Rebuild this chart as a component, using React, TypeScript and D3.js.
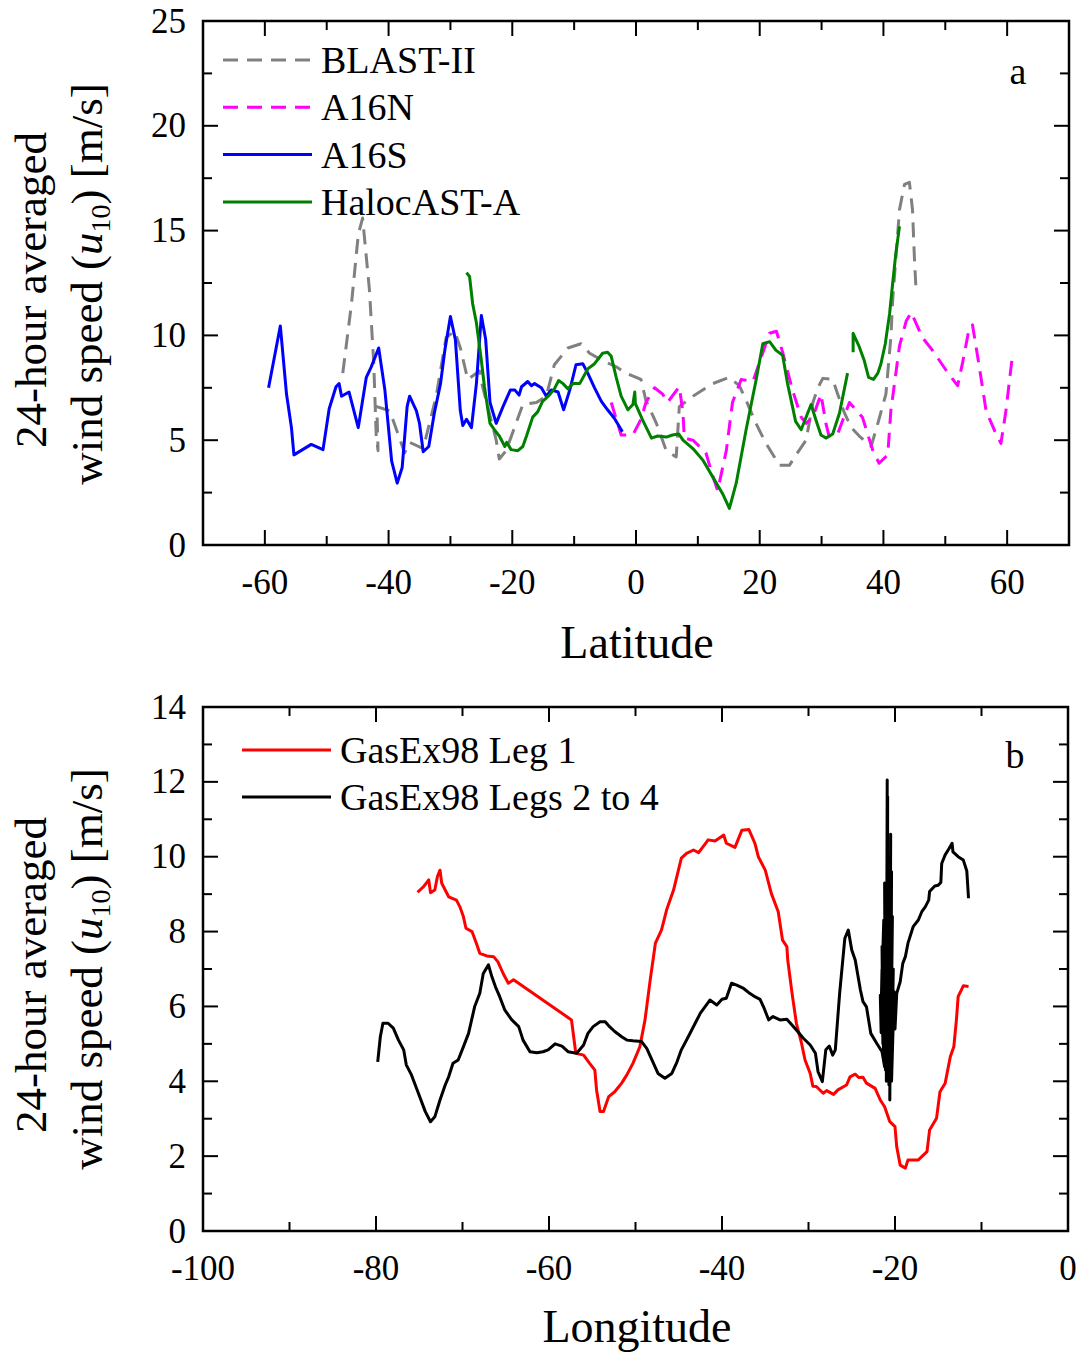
import React from "react";
import * as d3 from "d3";

// ---------- Panel a data (latitude, u10 m/s) ----------
const blastII: [number, number][] = [
  [-47.4, 8.2], [-46.0, 11.5], [-44.9, 14.8], [-44.2, 15.6], [-43.1, 12.2], [-42.4, 8.7], [-42.0, 5.2], [-41.7, 4.5],
  [-41.9, 6.6], [-39.8, 6.4], [-37.4, 4.4], [-36.6, 4.9], [-34.4, 4.6], [-32.3, 7.1], [-30.7, 9.9], [-29.3, 10.2],
  [-28.4, 9.4], [-27.2, 7.9], [-25.3, 8.3], [-24.8, 7.55], [-22.6, 5.0], [-22.1, 4.1], [-21.0, 4.5], [-19.4, 5.8],
  [-18.3, 6.7], [-16.1, 6.8], [-14.5, 7.1], [-13.2, 8.6], [-11.0, 9.4], [-8.9, 9.6], [-7.5, 9.15], [-5.4, 8.8],
  [-3.2, 8.5], [-1.6, 8.2], [0.8, 7.9], [1.6, 6.9], [3.3, 5.8], [4.9, 4.5], [6.5, 4.2], [7.0, 6.6], [9.2, 7.1],
  [12.4, 7.7], [15.1, 8.0], [16.7, 7.6], [17.8, 6.9], [19.4, 5.8], [21.0, 4.85], [23.2, 3.8], [24.8, 3.8],
  [26.1, 4.4], [27.5, 5.0], [28.6, 6.8], [29.4, 7.5], [30.2, 7.95], [31.8, 7.9], [32.6, 7.2], [33.7, 6.3],
  [34.8, 5.6], [36.1, 5.2], [38.0, 4.7], [39.1, 5.8], [40.4, 7.2], [41.2, 9.9], [41.5, 11.7], [42.6, 16.0],
  [43.4, 17.2], [44.2, 17.3], [44.7, 16.0], [45.0, 13.75], [45.3, 12.0],
];

const a16n: [number, number][] = [
  [-4.0, 6.8], [-2.4, 5.25], [-0.5, 5.25], [0.8, 6.0], [1.6, 6.8], [3.0, 7.5], [4.3, 7.2], [5.1, 6.8], [7.0, 7.55],
  [7.6, 6.3], [7.8, 5.1], [9.2, 5.0], [11.3, 4.4], [12.4, 3.3], [13.2, 2.6], [14.6, 4.5], [15.6, 6.8], [17.0, 7.9],
  [18.9, 7.8], [20.3, 9.0], [21.6, 10.1], [22.7, 10.2], [23.7, 9.2], [25.3, 7.4], [26.7, 6.1], [27.5, 5.8],
  [28.6, 6.1], [29.9, 7.2], [30.7, 5.8], [31.2, 5.2], [32.6, 5.3], [34.5, 6.8], [36.6, 6.1], [38.3, 4.5],
  [39.3, 3.9], [40.7, 4.3], [41.2, 6.4], [42.6, 9.5], [43.7, 10.7], [44.5, 11.1], [46.3, 9.9], [47.9, 9.3],
  [50.1, 8.35], [52.0, 7.6], [52.8, 8.7], [53.9, 10.4], [54.4, 10.5], [55.5, 8.5], [56.6, 6.4], [58.2, 5.3],
  [59.0, 4.85], [59.8, 6.4], [60.9, 9.15],
];

const a16s: [number, number][] = [
  [-59.4, 7.5], [-57.5, 10.45], [-56.5, 7.2], [-55.7, 5.6], [-55.3, 4.3], [-52.5, 4.8], [-50.6, 4.55], [-49.6, 6.5],
  [-48.5, 7.55], [-48.0, 7.7], [-47.6, 7.1], [-46.4, 7.3], [-44.9, 5.6], [-43.6, 8.0], [-42.8, 8.5], [-41.6, 9.4],
  [-40.6, 7.4], [-39.5, 4.0], [-38.6, 2.95], [-37.8, 3.7], [-37.0, 6.6], [-36.6, 7.1], [-35.5, 6.4], [-35.0, 5.8],
  [-34.4, 4.45], [-33.5, 4.7], [-32.6, 6.3], [-31.6, 7.7], [-30.9, 9.3], [-30.0, 10.9], [-29.2, 9.8], [-28.4, 6.4],
  [-28.0, 5.7], [-27.4, 6.0], [-26.6, 5.6], [-25.8, 7.7], [-25.0, 10.95], [-24.3, 9.8], [-23.6, 6.8], [-22.6, 5.8],
  [-21.5, 6.6], [-20.3, 7.4], [-19.6, 7.4], [-18.9, 7.15], [-18.5, 7.55], [-17.5, 7.8], [-16.9, 7.6], [-16.4, 7.7],
  [-15.3, 7.5], [-14.5, 7.1], [-13.7, 7.4], [-12.6, 7.3], [-11.7, 6.45], [-10.7, 7.4], [-9.7, 8.6], [-8.6, 8.65],
  [-7.8, 8.2], [-6.7, 7.5], [-5.6, 6.85], [-4.6, 6.45], [-3.5, 6.05], [-2.2, 5.4],
];

const halocastA1: [number, number][] = [
  [-27.4, 13.0], [-26.9, 12.8], [-26.4, 11.5], [-25.8, 10.6], [-25.0, 8.8], [-24.5, 7.55], [-23.6, 5.8],
  [-22.9, 5.5], [-22.1, 5.2], [-21.2, 4.7], [-20.9, 4.9], [-20.2, 4.55], [-19.1, 4.5], [-18.3, 4.7],
  [-17.7, 5.2], [-16.7, 6.1], [-15.9, 6.35], [-15.1, 6.85], [-14.0, 7.15], [-13.2, 7.45], [-12.5, 7.85],
  [-11.8, 7.7], [-11.0, 7.45], [-10.2, 7.7], [-9.1, 7.7], [-7.8, 8.4], [-6.7, 8.65], [-5.4, 9.15], [-4.6, 9.2],
  [-4.0, 9.0], [-3.2, 8.0], [-2.4, 7.1], [-1.3, 6.45], [-0.5, 6.7], [-0.2, 7.3], [-0.1, 6.75], [1.1, 5.95],
  [2.5, 5.1], [3.5, 5.2], [4.9, 5.15], [5.9, 5.25], [6.9, 5.3], [7.6, 5.0], [9.2, 4.6], [10.8, 4.05],
  [12.4, 3.25], [14.0, 2.45], [15.1, 1.75], [16.2, 2.95], [17.8, 5.5], [19.4, 7.85], [20.5, 9.6], [21.6, 9.7],
  [22.6, 9.3], [23.7, 9.05], [24.5, 7.7], [25.3, 6.6], [25.8, 5.9], [26.7, 5.5], [28.3, 6.7], [29.1, 5.95],
  [29.9, 5.25], [30.7, 5.1], [31.8, 5.3], [32.9, 6.3], [34.2, 8.2],
];

const halocastA2: [number, number][] = [
  [35.1, 9.2], [35.1, 10.1], [36.1, 9.45], [36.9, 8.8], [37.6, 8.0], [38.4, 7.9], [39.1, 8.2], [39.6, 8.65],
  [40.3, 9.6], [41.0, 11.05], [41.5, 12.5], [42.0, 13.9], [42.6, 15.2],
];

// ---------- Panel b data (longitude, u10 m/s) ----------
const leg1: [number, number][] = [
  [-75.2, 9.05], [-74.5, 9.2], [-73.9, 9.38], [-73.7, 9.04], [-73.2, 9.11], [-72.9, 9.47], [-72.6, 9.64],
  [-72.4, 9.29], [-71.6, 8.93], [-70.7, 8.84], [-70.3, 8.66], [-69.9, 8.4], [-69.6, 8.09], [-68.9, 8.0],
  [-68.4, 7.69], [-68.0, 7.42], [-67.2, 7.35], [-66.4, 7.33], [-65.9, 7.19], [-65.3, 6.88], [-64.7, 6.62],
  [-64.1, 6.71], [-57.4, 5.64], [-56.9, 4.75], [-56.0, 4.7], [-55.3, 4.48], [-54.7, 4.3], [-54.5, 3.77],
  [-54.1, 3.19], [-53.7, 3.19], [-53.1, 3.59], [-52.4, 3.72], [-51.6, 3.95], [-51.0, 4.17], [-50.3, 4.48],
  [-49.5, 4.92], [-48.9, 5.64], [-48.3, 6.71], [-47.7, 7.69], [-47.0, 8.04], [-46.4, 8.58], [-45.6, 9.11],
  [-44.7, 9.96], [-44.1, 10.09], [-43.3, 10.18], [-42.7, 10.11], [-41.6, 10.45], [-40.8, 10.42], [-39.8, 10.58],
  [-39.5, 10.36], [-38.5, 10.25], [-37.7, 10.71], [-36.9, 10.73], [-36.2, 10.36], [-35.8, 10.0], [-35.0, 9.64],
  [-34.3, 9.02], [-33.5, 8.53], [-33.0, 7.77], [-32.5, 7.6], [-32.4, 7.24], [-31.9, 6.35], [-31.4, 5.55],
  [-30.8, 5.01], [-30.4, 4.57], [-29.8, 4.21], [-29.5, 3.87], [-29.1, 3.86], [-28.3, 3.68], [-27.9, 3.75],
  [-27.1, 3.65], [-26.6, 3.77], [-25.6, 3.9], [-25.2, 4.12], [-24.6, 4.19], [-24.2, 4.1], [-23.7, 4.11],
  [-23.3, 3.95], [-22.3, 3.81], [-21.7, 3.5], [-21.2, 3.32], [-20.6, 2.92], [-20.0, 2.79], [-19.8, 2.25],
  [-19.4, 1.76], [-18.8, 1.68], [-18.5, 1.9], [-17.3, 1.9], [-16.3, 2.12], [-16.0, 2.7], [-15.2, 3.01],
  [-14.8, 3.72], [-14.2, 3.95], [-13.6, 4.66], [-13.2, 4.92], [-12.9, 5.64], [-12.7, 6.26], [-12.1, 6.55],
  [-11.5, 6.53],
];

const legs2to4: [number, number][] = [
  [-79.8, 4.52], [-79.5, 5.19], [-79.2, 5.55], [-78.6, 5.55], [-78.0, 5.42], [-77.4, 5.1], [-76.8, 4.84],
  [-76.5, 4.44], [-75.9, 4.17], [-75.1, 3.68], [-74.3, 3.19], [-73.7, 2.92], [-73.2, 3.05], [-72.6, 3.5],
  [-72.0, 3.9], [-71.6, 4.12], [-71.1, 4.48], [-70.5, 4.57], [-69.9, 4.92], [-69.3, 5.28], [-68.6, 5.99],
  [-68.0, 6.35], [-67.6, 6.88], [-67.0, 7.11], [-66.6, 6.79], [-66.2, 6.53], [-65.7, 6.26], [-65.1, 5.9],
  [-64.3, 5.64], [-63.5, 5.46], [-63.0, 5.1], [-62.2, 4.79], [-61.4, 4.76], [-60.7, 4.79], [-60.1, 4.84],
  [-59.3, 5.0], [-58.5, 4.94], [-57.8, 4.79], [-56.8, 4.75], [-56.0, 4.97], [-55.5, 5.28], [-54.9, 5.46],
  [-54.1, 5.59], [-53.5, 5.59], [-53.0, 5.46], [-52.4, 5.33], [-51.6, 5.19], [-51.0, 5.1], [-50.3, 5.08],
  [-49.3, 5.06], [-48.7, 4.88], [-48.1, 4.57], [-47.4, 4.21], [-46.6, 4.08], [-45.8, 4.21], [-45.2, 4.52],
  [-44.7, 4.84], [-43.9, 5.19], [-43.1, 5.55], [-42.5, 5.82], [-41.4, 6.17], [-40.6, 6.04], [-40.0, 6.19],
  [-39.5, 6.22], [-38.9, 6.62], [-38.3, 6.57], [-37.5, 6.48], [-36.8, 6.35], [-36.2, 6.26], [-35.6, 6.19],
  [-35.2, 5.99], [-34.6, 5.64], [-34.1, 5.73], [-33.3, 5.64], [-32.5, 5.66], [-31.4, 5.37], [-30.6, 5.15],
  [-29.8, 4.97], [-29.2, 4.75], [-28.9, 4.26], [-28.4, 3.99], [-28.0, 4.84], [-27.6, 4.94], [-27.2, 4.7],
  [-26.9, 4.84], [-26.4, 6.35], [-25.8, 7.82], [-25.4, 8.04], [-25.0, 7.51], [-24.6, 7.24], [-24.0, 6.44],
  [-23.7, 6.13], [-23.3, 5.99], [-22.8, 5.28], [-22.1, 5.01], [-21.5, 4.79], [-21.2, 4.39],
  [-21.7, 6.3], [-21.6, 5.3], [-21.5, 7.0], [-21.6, 5.9], [-21.3, 8.3], [-21.4, 5.0], [-21.5, 7.6], [-21.2, 4.6],
  [-21.3, 8.0], [-21.1, 4.3], [-21.2, 9.3], [-21.0, 4.8], [-20.9, 12.05], [-21.0, 4.0], [-20.85, 11.6],
  [-20.9, 4.4], [-20.8, 10.0], [-20.7, 3.9], [-20.8, 8.8], [-20.6, 4.5], [-20.5, 10.6], [-20.6, 3.5],
  [-20.4, 9.6], [-20.5, 4.2], [-20.3, 8.4], [-20.6, 3.8], [-20.35, 7.6], [-20.5, 4.6], [-20.2, 7.0],
  [-20.4, 4.0], [-20.1, 6.4], [-20.0, 5.4],
  [-19.8, 6.35], [-19.4, 6.66], [-19.1, 7.15], [-18.8, 7.33], [-18.5, 7.69], [-17.9, 8.13], [-17.3, 8.31],
  [-16.9, 8.53], [-16.5, 8.66], [-16.1, 8.84], [-16.0, 9.07], [-15.4, 9.22], [-15.0, 9.24], [-14.7, 9.31],
  [-14.6, 9.82], [-14.2, 10.05], [-13.8, 10.2], [-13.4, 10.36], [-13.3, 10.13], [-12.7, 10.0], [-12.1, 9.91],
  [-11.7, 9.62], [-11.5, 8.89],
];

// ---------- Ticks ----------
const latMajor = [-60, -40, -20, 0, 20, 40, 60];
const latMinor = [-50, -30, -10, 10, 30, 50];
const uMajorA = [0, 5, 10, 15, 20, 25];
const uMinorA = [2.5, 7.5, 12.5, 17.5, 22.5];
const lonMajor = [-100, -80, -60, -40, -20, 0];
const lonMinor = [-90, -70, -50, -30, -10];
const uMajorB = [0, 2, 4, 6, 8, 10, 12, 14];
const uMinorB = [1, 3, 5, 7, 9, 11, 13];

const legendA = [
  { label: "BLAST-II", color: "#808080", dash: "15,9" },
  { label: "A16N", color: "#ff00ff", dash: "15,9" },
  { label: "A16S", color: "#0000ff", dash: null },
  { label: "HalocAST-A", color: "#008000", dash: null },
];
const legendB = [
  { label: "GasEx98 Leg 1", color: "#ff0000" },
  { label: "GasEx98 Legs 2 to 4", color: "#000000" },
];

const FONT = "'Liberation Serif', 'Times New Roman', serif";
const TICK_FS = 35;
const TITLE_FS = 46;
const LEG_FS = 38;

function Frame({ x, y, xMajor, xMinor, yMajor, yMinor, xFmt }: any) {
  const [x0, x1] = x.range();
  const [y0, y1] = y.range(); // y0 bottom, y1 top
  const M = 15, m = 9;
  const els: any[] = [];
  xMajor.forEach((v: number, i: number) => {
    const px = x(v);
    els.push(<line key={"xb" + i} x1={px} x2={px} y1={y0} y2={y0 - M} />);
    els.push(<line key={"xt" + i} x1={px} x2={px} y1={y1} y2={y1 + M} />);
  });
  xMinor.forEach((v: number, i: number) => {
    const px = x(v);
    els.push(<line key={"xbm" + i} x1={px} x2={px} y1={y0} y2={y0 - m} />);
    els.push(<line key={"xtm" + i} x1={px} x2={px} y1={y1} y2={y1 + m} />);
  });
  yMajor.forEach((v: number, i: number) => {
    const py = y(v);
    els.push(<line key={"yl" + i} x1={x0} x2={x0 + M} y1={py} y2={py} />);
    els.push(<line key={"yr" + i} x1={x1} x2={x1 - M} y1={py} y2={py} />);
  });
  yMinor.forEach((v: number, i: number) => {
    const py = y(v);
    els.push(<line key={"ylm" + i} x1={x0} x2={x0 + m} y1={py} y2={py} />);
    els.push(<line key={"yrm" + i} x1={x1} x2={x1 - m} y1={py} y2={py} />);
  });
  return (
    <g>
      <g stroke="#000" strokeWidth={2}>{els}</g>
      <rect x={x0} y={y1} width={x1 - x0} height={y0 - y1} fill="none" stroke="#000" strokeWidth={2.5} />
      <g fontFamily={FONT} fontSize={TICK_FS} fill="#000">
        {xMajor.map((v: number, i: number) => (
          <text key={"xl" + i} x={x(v)} y={y0 + 49} textAnchor="middle">{xFmt(v)}</text>
        ))}
        {yMajor.map((v: number, i: number) => (
          <text key={"ylb" + i} x={x0 - 17} y={y(v) + 11.5} textAnchor="end">{String(v)}</text>
        ))}
      </g>
    </g>
  );
}

function YTitle({ cx, cy }: { cx: number; cy: number }) {
  return (
    <g fontFamily={FONT} fontSize={45} fill="#000">
      <text transform={`translate(${cx},${cy + 6}) rotate(-90)`} textAnchor="middle" y={0}>24-hour averaged</text>
      <text transform={`translate(${cx + 56},${cy}) rotate(-90)`} textAnchor="middle" y={0}>
        wind speed (<tspan fontStyle="italic">u</tspan>
        <tspan fontSize={28} dy={8}>10</tspan>
        <tspan dy={-8}>) [m/s]</tspan>
      </text>
    </g>
  );
}

export default function App() {
  const xa = d3.scaleLinear().domain([-70, 70]).range([203, 1069]);
  const ya = d3.scaleLinear().domain([0, 25]).range([545, 21]);
  const xb = d3.scaleLinear().domain([-100, 0]).range([203, 1068]);
  const yb = d3.scaleLinear().domain([0, 14]).range([1231, 707]);

  const la = d3.line<[number, number]>().x((d) => xa(d[0])).y((d) => ya(d[1]));
  const lb = d3.line<[number, number]>().x((d) => xb(d[0])).y((d) => yb(d[1]));

  const fmt = (v: number) => String(v);

  return (
    <svg width={1083} height={1354} style={{ position: "absolute", left: 0, top: 0, background: "#fff" }}>
      <rect x={0} y={0} width={1083} height={1354} fill="#fff" />
      {/* Panel a */}
      <g fill="none" strokeWidth={3} strokeLinejoin="round">
        <path d={la(blastII) || ""} stroke="#808080" strokeDasharray="15,9" />
        <path d={la(a16n) || ""} stroke="#ff00ff" strokeDasharray="15,9" />
        <path d={la(a16s) || ""} stroke="#0000ff" />
        <path d={la(halocastA1) || ""} stroke="#008000" />
        <path d={la(halocastA2) || ""} stroke="#008000" />
      </g>
      <Frame x={xa} y={ya} xMajor={latMajor} xMinor={latMinor} yMajor={uMajorA} yMinor={uMinorA} xFmt={fmt} />
      <g fontFamily={FONT} fontSize={LEG_FS}>
        {legendA.map((d, i) => {
          const yy = 60 + i * 47.3;
          return (
            <g key={d.label}>
              <line x1={223} x2={312} y1={yy} y2={yy} stroke={d.color} strokeWidth={3}
                strokeDasharray={d.dash || undefined} />
              <text x={321} y={yy + 13}>{d.label}</text>
            </g>
          );
        })}
        <text x={1018} y={84} textAnchor="middle">a</text>
      </g>
      <text x={637} y={658} textAnchor="middle" fontFamily={FONT} fontSize={TITLE_FS}>Latitude</text>
      <YTitle cx={46} cy={284} />

      {/* Panel b */}
      <g fill="none" strokeWidth={3} strokeLinejoin="round">
        <path d={lb(leg1) || ""} stroke="#ff0000" />
        <path d={lb(legs2to4) || ""} stroke="#000000" />
      </g>
      <Frame x={xb} y={yb} xMajor={lonMajor} xMinor={lonMinor} yMajor={uMajorB} yMinor={uMinorB} xFmt={fmt} />
      <g fontFamily={FONT} fontSize={LEG_FS}>
        {legendB.map((d, i) => {
          const yy = 750 + i * 47;
          return (
            <g key={d.label}>
              <line x1={242} x2={331} y1={yy} y2={yy} stroke={d.color} strokeWidth={3} />
              <text x={340} y={yy + 13}>{d.label}</text>
            </g>
          );
        })}
        <text x={1015} y={768} textAnchor="middle">b</text>
      </g>
      <text x={637} y={1342} textAnchor="middle" fontFamily={FONT} fontSize={TITLE_FS}>Longitude</text>
      <YTitle cx={46} cy={969} />
    </svg>
  );
}
